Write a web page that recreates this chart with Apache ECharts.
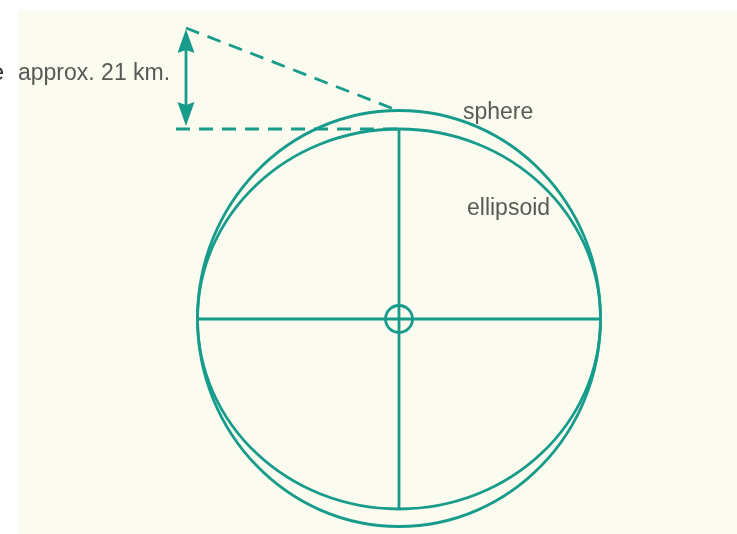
<!DOCTYPE html>
<html>
<head>
<meta charset="utf-8">
<script src="https://cdn.jsdelivr.net/npm/echarts@6/dist/echarts.min.js"></script>
<style>
  html, body { margin: 0; padding: 0; background: #fff; }
  #chart { width: 737px; height: 534px; }
</style>
</head>
<body>
<div id="chart"></div>
<script>
const TEAL = "#179c8c";
const CREAM = "#fbfbef";
const TEXT = "#2f2f2f";
const FONT = "'Liberation Sans', Arial, Helvetica, sans-serif";
const LW = 2.8;

// diagram units, centre of the figure at (0,0), y up
const ELLIPSES = [          // [cx, cy, rx, ry]
  [0, 0, 201.5, 190],       // ellipsoid
  [0, 0.5, 201.5, 208],     // sphere
];
const AXIS_H = [[-201.5, 0], [201.5, 0]];
const AXIS_V = [[0, -190], [0, 190]];
const CENTER_MARK = [[0, 0, 13.5]];   // [x, y, r]
const DASH_H = [[-223, 190], [0, 190]];
const DASH_D = [[-213, 291], [0, 208]];
const ARROW = [[-213, 290, 193]];   // [x, yTop, yBottom]
const LABELS = [
  { name: "approx. 21 km.", value: [-381, 245] },
  { name: "sphere", value: [64, 206] },
  { name: "ellipsoid", value: [68, 110] },
];

const chart = echarts.init(document.getElementById("chart"));

function lineSeries(data, dashed) {
  return {
    type: "line",
    data,
    symbol: "none",
    silent: true,
    animation: false,
    lineStyle: { color: TEAL, width: LW, type: dashed ? [14, 9] : "solid", cap: "butt" },
  };
}

chart.setOption({
  animation: false,
  grid: { left: 18, top: 11, right: 0, bottom: 0, show: true, backgroundColor: CREAM, borderWidth: 0 },
  xAxis: { type: "value", min: -381, max: 338, show: false },
  yAxis: { type: "value", min: -215, max: 308, show: false },
  graphic: [{
    type: "text", x: 4, y: 74, silent: true,
    style: { text: "e", align: "right", verticalAlign: "middle", fontSize: 23, fontFamily: FONT, fill: TEXT },
  }],
  series: [
    {
      type: "custom",
      data: ELLIPSES,
      silent: true,
      renderItem(params, api) {
        const c = api.coord([api.value(0), api.value(1)]);
        const s = api.size([api.value(2), api.value(3)]);
        return {
          type: "ellipse",
          shape: { cx: c[0], cy: c[1], rx: s[0], ry: s[1] },
          style: { fill: "none", stroke: TEAL, lineWidth: LW },
        };
      },
    },
    lineSeries(AXIS_H, false),
    lineSeries(AXIS_V, false),
    lineSeries(DASH_H, true),
    lineSeries(DASH_D, true),
    {
      type: "custom",
      data: CENTER_MARK,
      silent: true,
      renderItem(params, api) {
        const c = api.coord([api.value(0), api.value(1)]);
        const r = api.size([api.value(2), 0])[0];
        return {
          type: "circle",
          shape: { cx: c[0], cy: c[1], r },
          style: { fill: "none", stroke: TEAL, lineWidth: LW },
        };
      },
    },
    {
      type: "custom",
      data: ARROW,
      silent: true,
      renderItem(params, api) {
        const top = api.coord([api.value(0), api.value(1)]);
        const bot = api.coord([api.value(0), api.value(2)]);
        const hw = 8.5, hl = 24, notch = 3;
        const x = top[0];
        return {
          type: "group",
          children: [
            { type: "line", shape: { x1: x, y1: top[1] + hl - notch, x2: x, y2: bot[1] - hl + notch },
              style: { stroke: TEAL, lineWidth: LW } },
            { type: "polygon",
              shape: { points: [[x, top[1]], [x + hw, top[1] + hl], [x, top[1] + hl - notch], [x - hw, top[1] + hl]] },
              style: { fill: TEAL } },
            { type: "polygon",
              shape: { points: [[x, bot[1]], [x + hw, bot[1] - hl], [x, bot[1] - hl + notch], [x - hw, bot[1] - hl]] },
              style: { fill: TEAL } },
          ],
        };
      },
    },
    {
      type: "scatter",
      data: LABELS,
      symbolSize: 0,
      silent: true,
      clip: false,
      label: {
        show: true, position: "right", distance: 0,
        formatter: p => p.name,
        fontSize: 23, fontFamily: FONT, color: TEXT, verticalAlign: "middle",
      },
    },
  ],
});
</script>
</body>
</html>
